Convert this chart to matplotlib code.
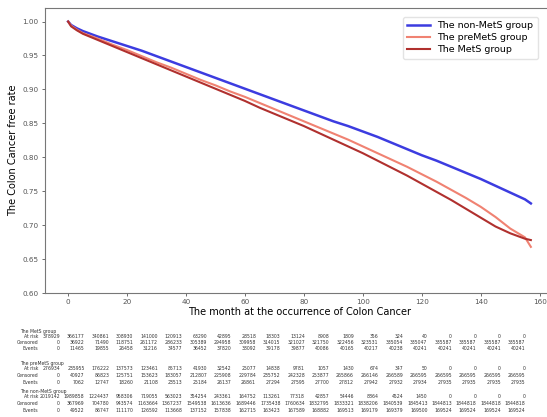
import numpy as np
import matplotlib
matplotlib.use("Agg")
import matplotlib.pyplot as plt

# months and Kaplan-Meier estimates
months = [0, 1, 3, 5, 10, 15, 20, 25, 30, 35, 40, 45, 50, 55, 60, 65, 70, 75, 80,
          85, 90, 95, 100, 105, 110, 115, 120, 125, 130, 135, 140, 145, 150, 155, 157]
surv_non = [1.0, 0.995, 0.990, 0.986, 0.978, 0.971, 0.964, 0.957, 0.949, 0.941, 0.933,
            0.925, 0.917, 0.909, 0.901, 0.893, 0.885, 0.877, 0.869, 0.861, 0.853, 0.846,
            0.838, 0.830, 0.821, 0.812, 0.803, 0.795, 0.786, 0.777, 0.768, 0.758, 0.748,
            0.738, 0.732]
surv_pre = [1.0, 0.994, 0.988, 0.983, 0.975, 0.966, 0.958, 0.949, 0.940, 0.932, 0.923,
            0.914, 0.906, 0.897, 0.889, 0.880, 0.871, 0.862, 0.853, 0.844, 0.835, 0.826,
            0.816, 0.806, 0.796, 0.786, 0.775, 0.764, 0.752, 0.740, 0.727, 0.712, 0.695,
            0.682, 0.668]
surv_mets = [1.0, 0.993, 0.987, 0.982, 0.973, 0.964, 0.955, 0.946, 0.937, 0.928, 0.919,
             0.910, 0.901, 0.892, 0.883, 0.873, 0.864, 0.855, 0.846, 0.836, 0.826, 0.816,
             0.806, 0.795, 0.784, 0.773, 0.761, 0.749, 0.737, 0.724, 0.711, 0.698, 0.688,
             0.680, 0.678]

# at-risk table
mets_risk = [378929, 366177, 340861, 308930, 141000, 120913, 63290, 42895, 28518, 18303,
             13124, 8908, 1809, 356, 324, 40, 0, 0, 0, 0]
mets_cens = [0, 36922, 71490, 118751, 261172, 286233, 305389, 294958, 309958, 314015,
             321027, 321750, 322456, 323531, 335054, 335047, 335587, 335587, 335587, 335587]
mets_evt = [0, 11465, 19855, 26458, 31216, 34577, 36452, 37820, 38092, 39178,
            39877, 40086, 40165, 40217, 40238, 40241, 40241, 40241, 40241, 40241]
pre_risk = [276934, 235955, 176222, 137573, 123461, 85713, 41930, 32542, 25077, 14838,
            9781, 1057, 1430, 674, 347, 50, 0, 0, 0, 0]
pre_cens = [0, 40927, 86823, 125751, 153623, 183057, 212807, 225908, 229784, 235752,
            242328, 253877, 265866, 266146, 266589, 266595, 266595, 266595, 266595, 266595]
pre_evt = [0, 7062, 12747, 18260, 21108, 23513, 25184, 26137, 26861, 27294,
           27595, 27700, 27812, 27942, 27932, 27934, 27935, 27935, 27935, 27935]
non_risk = [2019142, 1989858, 1224437, 958306, 719055, 563023, 354254, 243361, 164752, 113261,
            77318, 42857, 54446, 8864, 4524, 1450, 0, 0, 0, 0]
non_cens = [0, 367969, 704780, 943574, 1163664, 1367237, 1549538, 1613636, 1689446, 1735438,
            1760634, 1832795, 1833321, 1838206, 1840539, 1845413, 1844813, 1844818, 1844818, 1844818]
non_evt = [0, 49522, 86747, 111170, 126592, 113668, 137152, 157838, 162715, 163423,
           167589, 168882, 169513, 169179, 169379, 169500, 169524, 169524, 169524, 169524]

W, H = 547, 417
fig = plt.figure(figsize=(W / 100, H / 100), dpi=100)

# axes runs past the right edge like in the cropped original
ax = fig.add_axes([45 / W, 1 - 293 / H, 509 / W, 285 / H])
ax.plot(months, surv_non, color="#3c3ce0", lw=1.8, label="The non-MetS group")
ax.plot(months, surv_pre, color="#f08272", lw=1.5, label="The preMetS group")
ax.plot(months, surv_mets, color="#b0302e", lw=1.5, label="The MetS group")
ax.set_xlim(-7.85, 164.85)
ax.set_ylim(0.6, 1.02)
ax.set_xticks(range(0, 161, 20))
ax.set_yticks(np.arange(0.6, 1.001, 0.05))
ax.yaxis.set_major_formatter(plt.FormatStrFormatter("%.2f"))
ax.tick_params(labelsize=5.2, colors="#555", length=2.5, width=0.6, pad=2)
for s in ax.spines.values():
    s.set_color("#777")
    s.set_linewidth(0.8)
ax.set_xlabel("The month at the occurrence of Colon Cancer", fontsize=7, labelpad=1)
ax.set_ylabel("The Colon Cancer free rate", fontsize=7, labelpad=3)
ax.legend(loc="upper right", bbox_to_anchor=(543 / W, 1 - 12 / H),
          bbox_transform=fig.transFigure, fontsize=6.8, frameon=True,
          edgecolor="#ddd", handlelength=2.4, borderpad=0.5, labelspacing=0.3)

# at-risk counts below the plot
groups = [("The MetS group", 331, mets_risk, mets_cens, mets_evt),
          ("The preMetS group", 364, pre_risk, pre_cens, pre_evt),
          ("The non-MetS group", 392, non_risk, non_cens, non_evt)]
fs = 3.3
for title, y0, risk, cens, evt in groups:
    fig.text(20 / W, 1 - y0 / H, title, fontsize=fs, va="center", ha="left", color="#333")
    for k, (lab, vals) in enumerate([("At risk", risk), ("Censored", cens), ("Events", evt)]):
        y = y0 + 5 + 6.5 * k
        fig.text(38 / W, 1 - y / H, lab, fontsize=fs, va="center", ha="right", color="#333")
        for i, v in enumerate(vals):
            fig.text((60 + 24.5 * i) / W, 1 - y / H, str(v), fontsize=fs,
                     va="center", ha="right", color="#333")

fig.savefig("out.png", dpi=100)
